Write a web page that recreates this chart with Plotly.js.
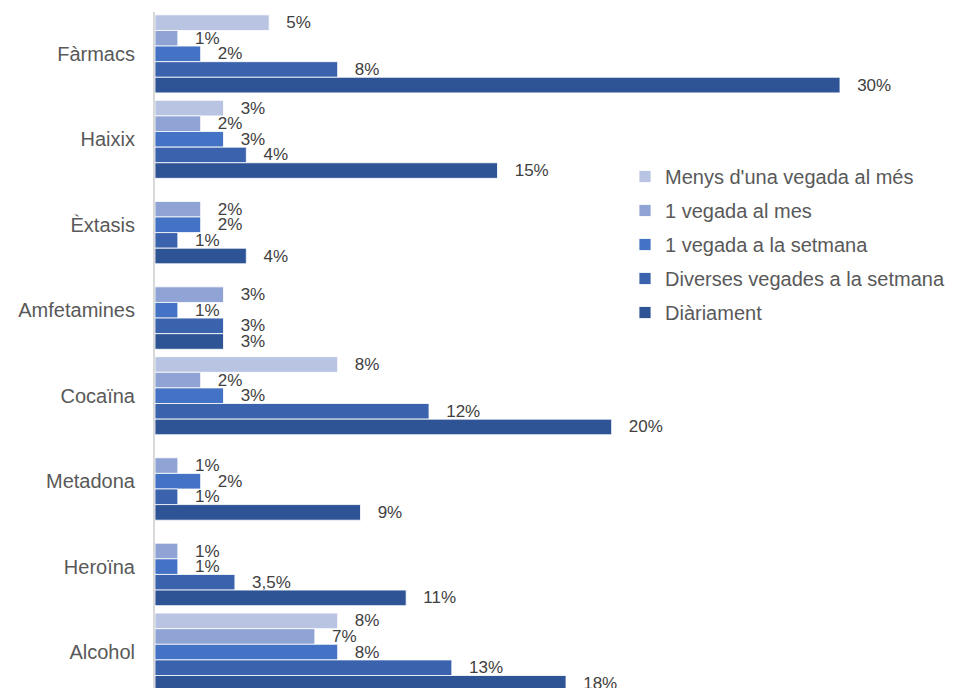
<!DOCTYPE html>
<html>
<head>
<meta charset="utf-8">
<script src="https://cdn.plot.ly/plotly-3.0.1.min.js"></script>
<style>html,body{margin:0;padding:0;background:#fff;}#chart{width:969px;height:688px;}</style>
</head>
<body>
<div id="chart"></div>
<script>
const categories = ["Fàrmacs", "Haixix", "Èxtasis", "Amfetamines", "Cocaïna", "Metadona", "Heroïna", "Alcohol"];
const seriesNames = ["Menys d'una vegada al més", "1 vegada al mes", "1 vegada a la setmana", "Diverses vegades a la setmana", "Diàriament"];
const menysUnaVegada = [5, 3, null, null, 8, null, null, 8];
const unaVegadaMes = [1, 2, 2, 3, 2, 1, 1, 7];
const unaVegadaSetmana = [2, 3, 2, 1, 3, 2, 1, 8];
const diversesVegades = [8, 4, 1, 3, 12, 1, 3.5, 13];
const diariament = [30, 15, 4, 3, 20, 9, 11, 18];
const colors = ["#b9c4e3", "#8fa3d4", "#4472c4", "#3b62ac", "#2f5496"];

const seriesValues = [menysUnaVegada, unaVegadaMes, unaVegadaSetmana, diversesVegades, diariament];
const pad = "\u00a0\u00a0\u00a0";
const traces = seriesValues.map((vals, i) => ({
  type: "bar",
  orientation: "h",
  name: seriesNames[i],
  legendgroup: "g" + i,
  y: categories,
  x: vals,
  text: vals.map(v => v == null ? "" : pad + String(v).replace(".", ",") + "%"),
  textposition: "outside",
  constraintext: "none",
  cliponaxis: false,
  textfont: {family: "Liberation Sans, Arial, sans-serif", size: 17, color: "#404040"},
  marker: {color: colors[i], line: {color: "rgba(255,255,255,0.8)", width: 1}},
  hoverinfo: "skip"
}));

const layout = {
  width: 969,
  height: 688,
  margin: {l: 155, r: 0, t: 12, b: 0, autoexpand: false},
  paper_bgcolor: "#ffffff",
  plot_bgcolor: "#ffffff",
  barmode: "group",
  bargap: 0.087,
  bargroupgap: 0,
  font: {family: "Liberation Sans, Arial, sans-serif", color: "#404040"},
  xaxis: {visible: false, range: [0, 35.65], autorange: false, fixedrange: true},
  yaxis: {
    type: "category",
    categoryorder: "array",
    categoryarray: categories,
    range: [7.42, -0.49],
    autorange: false,
    showline: true,
    linecolor: "#d9d9d9",
    linewidth: 2,
    showgrid: false,
    zeroline: false,
    ticks: "",
    ticklabelstandoff: 14,
    tickfont: {size: 20, color: "#595959"}
  },
  showlegend: true,
  legend: {
    xref: "paper",
    yref: "paper",
    x: (625 - 155) / 814,
    y: 1 - (157 - 12) / 676,
    xanchor: "left",
    yanchor: "top",
    traceorder: "grouped",
    tracegroupgap: 5,
    font: {size: 20, color: "#595959"},
    bgcolor: "rgba(0,0,0,0)"
  }
};

Plotly.newPlot("chart", traces, layout, {displayModeBar: false, staticPlot: true});
</script>
</body>
</html>
